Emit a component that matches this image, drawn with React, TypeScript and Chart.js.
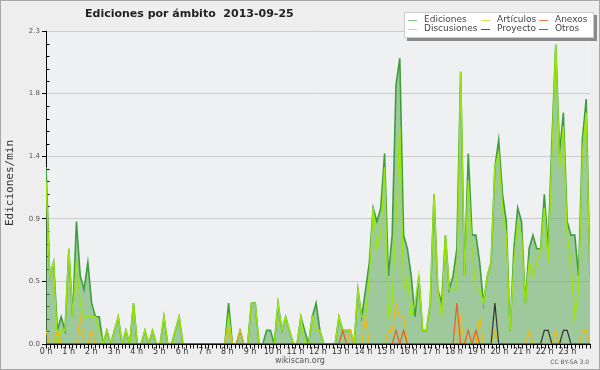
import React, { useEffect, useRef } from 'react';
import { Chart, registerables } from 'chart.js';

Chart.register(...registerables);

const TITLE = 'Ediciones por ámbito  2013-09-25';
const Y_TITLE = 'Ediciones/min';
const FOOTER = 'wikiscan.org';
const LICENSE = 'CC BY-SA 3.0';

const HOUR_LABELS = [
  '0 h', '1 h', '2 h', '3 h', '4 h', '5 h', '6 h', '7 h', '8 h', '9 h', '10 h', '11 h',
  '12 h', '13 h', '14 h', '15 h', '16 h', '17 h', '18 h', '19 h', '20 h', '21 h', '22 h', '23 h',
];
const MINOR_X_PER_HOUR = 6;
const Y_TICKS = [0, 0.46, 0.92, 1.38, 1.84, 2.3];
const Y_MINOR_DIVS = 5;
const Y_MAX = 2.3;

// one value every 10 minutes (144 slots)
const EDICIONES = [
  1.3, 0.5, 0.6, 0.1, 0.2, 0.1, 0.7, 0.2, 0.9, 0.5, 0.4, 0.6,
  0.3, 0.2, 0.2, 0, 0.1, 0, 0.1, 0.2, 0, 0.1, 0, 0.3,
  0, 0, 0.1, 0, 0.1, 0, 0, 0.2, 0, 0, 0.1, 0.2,
  0, 0, 0, 0, 0, 0, 0, 0, 0, 0, 0, 0,
  0.3, 0, 0, 0.1, 0, 0, 0.3, 0.3, 0, 0, 0.1, 0.1,
  0, 0.3, 0.1, 0.2, 0.1, 0, 0, 0.2, 0.1, 0, 0.2, 0.3,
  0.1, 0, 0, 0, 0, 0.2, 0.1, 0.1, 0.1, 0, 0.4, 0.2,
  0.4, 0.6, 1.0, 0.9, 1.0, 1.4, 0.5, 0.8, 1.9, 2.1, 0.8, 0.7,
  0.5, 0.2, 0.5, 0.1, 0.1, 0.3, 1.1, 0.4, 0.3, 0.8, 0.4, 0.5,
  0.7, 2.0, 0.5, 1.4, 0.8, 0.8, 0.6, 0.3, 0.5, 0.6, 1.3, 1.5,
  1.1, 0.9, 0.1, 0.7, 1.0, 0.9, 0.3, 0.7, 0.8, 0.7, 0.7, 1.1,
  0.7, 1.5, 2.2, 1.4, 1.7, 0.9, 0.8, 0.8, 0.5, 1.5, 1.8, 0.5,
];
const ARTICULOS = [
  1.2, 0.5, 0.6, 0, 0.1, 0.1, 0.7, 0.2, 0.6, 0.3, 0.2, 0.2,
  0.2, 0.2, 0.1, 0, 0.1, 0, 0.1, 0.2, 0, 0.1, 0, 0.3,
  0, 0, 0.1, 0, 0.1, 0, 0, 0.2, 0, 0, 0.1, 0.2,
  0, 0, 0, 0, 0, 0, 0, 0, 0, 0, 0, 0,
  0.2, 0, 0, 0, 0, 0, 0.3, 0.3, 0, 0, 0, 0,
  0, 0.3, 0.1, 0.2, 0.1, 0, 0, 0.2, 0, 0, 0.2, 0.1,
  0.1, 0, 0, 0, 0, 0.2, 0.1, 0.1, 0.1, 0, 0.4, 0.2,
  0.2, 0.5, 1.0, 0.7, 0.8, 1.3, 0.2, 0.3, 0.9, 1.6, 0.4, 0.5,
  0.2, 0.3, 0.5, 0.1, 0.1, 0.3, 1.1, 0.4, 0.2, 0.8, 0.4, 0.4,
  0.4, 2.0, 0.5, 1.2, 0.7, 0.4, 0.4, 0.3, 0.5, 0.6, 1.3, 1.4,
  1.0, 0.8, 0.1, 0.6, 0.9, 0.8, 0.3, 0.6, 0.5, 0.6, 0.7, 1.0,
  0.6, 1.4, 2.2, 1.3, 1.6, 0.8, 0.6, 0.2, 0.4, 1.4, 1.7, 0.5,
];
const DISCUSIONES = [
  0.1, 0, 0, 0.1, 0, 0, 0, 0, 0, 0.2, 0, 0,
  0.1, 0, 0, 0, 0, 0, 0, 0, 0, 0, 0, 0,
  0, 0, 0, 0, 0, 0, 0, 0, 0, 0, 0, 0,
  0, 0, 0, 0, 0, 0, 0, 0, 0, 0, 0, 0,
  0.1, 0, 0, 0.1, 0, 0, 0, 0, 0, 0, 0, 0,
  0, 0, 0, 0, 0, 0, 0, 0, 0, 0, 0, 0,
  0, 0, 0, 0, 0, 0, 0, 0, 0.1, 0, 0, 0,
  0.2, 0, 0, 0, 0, 0, 0.1, 0.1, 0.3, 0.2, 0.2, 0,
  0, 0, 0, 0, 0, 0, 0, 0, 0, 0, 0, 0,
  0, 0.2, 0, 0, 0, 0, 0.2, 0, 0, 0, 0.1, 0,
  0, 0, 0, 0, 0, 0, 0, 0.1, 0, 0, 0, 0,
  0, 0, 0.1, 0, 0, 0, 0, 0, 0, 0.1, 0.1, 0,
];
const ANEXOS = [
  0, 0, 0, 0, 0, 0, 0, 0, 0, 0, 0, 0,
  0, 0, 0, 0, 0, 0, 0, 0, 0, 0, 0, 0,
  0, 0, 0, 0, 0, 0, 0, 0, 0, 0, 0, 0,
  0, 0, 0, 0, 0, 0, 0, 0, 0, 0, 0, 0,
  0, 0, 0, 0, 0, 0, 0, 0, 0, 0, 0, 0,
  0, 0, 0, 0, 0, 0, 0, 0, 0, 0, 0, 0,
  0, 0, 0, 0, 0, 0, 0.1, 0, 0, 0, 0, 0,
  0, 0, 0, 0, 0, 0, 0, 0, 0.1, 0, 0.1, 0,
  0, 0, 0, 0, 0, 0, 0, 0, 0, 0, 0, 0,
  0.3, 0, 0, 0.1, 0, 0.1, 0, 0, 0, 0, 0, 0,
  0, 0, 0, 0, 0, 0, 0, 0, 0, 0, 0, 0,
  0, 0, 0, 0, 0, 0, 0, 0, 0, 0, 0, 0,
];
const PROYECTO = [
  0, 0, 0, 0, 0, 0, 0, 0, 0, 0, 0, 0,
  0, 0, 0, 0, 0, 0, 0, 0, 0, 0, 0, 0,
  0, 0, 0, 0, 0, 0, 0, 0, 0, 0, 0, 0,
  0, 0, 0, 0, 0, 0, 0, 0, 0, 0, 0, 0,
  0, 0, 0, 0, 0, 0, 0, 0, 0, 0, 0, 0,
  0, 0, 0, 0, 0, 0, 0, 0, 0, 0, 0, 0,
  0, 0, 0, 0, 0, 0, 0, 0, 0, 0, 0, 0,
  0, 0, 0, 0, 0, 0, 0, 0, 0, 0, 0, 0,
  0, 0, 0, 0, 0, 0, 0, 0, 0, 0, 0, 0,
  0, 0, 0, 0, 0, 0, 0, 0, 0, 0, 0.3, 0,
  0, 0, 0, 0, 0, 0, 0, 0, 0, 0, 0, 0.1,
  0.1, 0, 0, 0, 0.1, 0.1, 0, 0, 0, 0, 0, 0,
];
const OTROS = [
  0, 0, 0, 0, 0, 0, 0, 0, 0, 0, 0, 0,
  0, 0, 0, 0, 0, 0, 0, 0, 0, 0, 0, 0,
  0, 0, 0, 0, 0, 0, 0, 0, 0, 0, 0, 0,
  0, 0, 0, 0, 0, 0, 0, 0, 0, 0, 0, 0,
  0, 0, 0, 0, 0, 0, 0, 0, 0, 0, 0, 0,
  0, 0, 0, 0, 0, 0, 0, 0, 0, 0, 0, 0,
  0, 0, 0, 0, 0, 0, 0, 0, 0, 0, 0, 0,
  0, 0, 0, 0, 0, 0, 0, 0, 0, 0, 0, 0,
  0, 0, 0, 0, 0, 0, 0, 0, 0, 0, 0, 0,
  0, 0, 0, 0, 0, 0, 0, 0, 0, 0, 0, 0,
  0, 0, 0, 0, 0, 0, 0, 0, 0, 0, 0, 0,
  0, 0, 0, 0, 0, 0, 0, 0, 0, 0, 0, 0,
];

// legend layout: row 1 then row 2, three columns
const LEGEND_ITEMS = [
  { name: 'Ediciones', color: '#7fcc7f', col: 0, row: 0 },
  { name: 'Artículos', color: '#c6ec4c', col: 1, row: 0 },
  { name: 'Anexos', color: '#ff8040', col: 2, row: 0 },
  { name: 'Discusiones', color: '#ffcc33', col: 0, row: 1 },
  { name: 'Proyecto', color: '#555555', col: 1, row: 1 },
  { name: 'Otros', color: '#9933ff', col: 2, row: 1 },
];

const LAST = EDICIONES.length - 1;
const toPoints = (arr: number[]) => arr.map((y, x) => ({ x, y }));

const decorPlugin = {
  id: 'decor',
  beforeDraw(chart: any) {
    const { ctx, chartArea: a, width, height } = chart;
    ctx.save();
    ctx.fillStyle = '#eeeeee';
    ctx.fillRect(0, 0, width, height);
    ctx.strokeStyle = '#a8a8a8';
    ctx.lineWidth = 1;
    ctx.strokeRect(0.5, 0.5, width - 1, height - 1);
    ctx.fillStyle = '#eff0f2';
    ctx.fillRect(a.left, a.top, a.right - a.left, a.bottom - a.top);
    ctx.restore();
  },
  beforeDatasetsDraw(chart: any) {
    const { ctx } = chart;
    const y = chart.scales.y;
    const x0 = Math.round(y.right) + 0.5;
    ctx.save();
    ctx.strokeStyle = '#000';
    ctx.lineWidth = 1;
    ctx.beginPath();
    for (let t = 0; t < Y_TICKS.length - 1; t++) {
      const step = (Y_TICKS[t + 1] - Y_TICKS[t]) / Y_MINOR_DIVS;
      for (let k = 1; k < Y_MINOR_DIVS; k++) {
        const py = Math.round(y.getPixelForValue(Y_TICKS[t] + k * step)) + 0.5;
        ctx.moveTo(x0, py);
        ctx.lineTo(x0 + 3, py);
      }
    }
    ctx.stroke();
    ctx.restore();
  },
  afterDatasetsDraw(chart: any) {
    const { ctx, chartArea: a } = chart;
    const xs = chart.scales.x;
    const by = Math.round(a.bottom) + 0.5;
    ctx.save();
    ctx.strokeStyle = '#000';
    ctx.lineWidth = 1;
    ctx.beginPath();
    ctx.moveTo(a.left, by);
    ctx.lineTo(a.right + 1, by);
    const n = HOUR_LABELS.length * MINOR_X_PER_HOUR;
    for (let k = 0; k <= n; k++) {
      const px = Math.round(xs.getPixelForValue((k * LAST) / n)) + 0.5;
      ctx.moveTo(px, by);
      ctx.lineTo(px, by + 4);
    }
    ctx.stroke();
    ctx.restore();
  },
  afterDraw(chart: any) {
    const { ctx } = chart;
    ctx.save();
    // title
    ctx.fillStyle = '#222';
    ctx.font = 'bold 11px "DejaVu Sans"';
    ctx.textAlign = 'left';
    ctx.textBaseline = 'middle';
    ctx.fillText(TITLE, 85, 14);

    // y title
    ctx.save();
    ctx.translate(10, 183);
    ctx.rotate(-Math.PI / 2);
    ctx.font = '11px "DejaVu Sans Mono"';
    ctx.fillStyle = '#333';
    ctx.textAlign = 'center';
    ctx.textBaseline = 'middle';
    ctx.fillText(Y_TITLE, 0, 0);
    ctx.restore();

    // legend
    const lx = 404, ly = 12, lw = 190, lh = 26;
    ctx.fillStyle = '#8a8a8a';
    ctx.fillRect(lx + 3, ly + 3, lw, lh);
    ctx.fillStyle = '#ffffff';
    ctx.fillRect(lx, ly, lw, lh);
    ctx.strokeStyle = '#cccccc';
    ctx.lineWidth = 1;
    ctx.strokeRect(lx + 0.5, ly + 0.5, lw - 1, lh - 1);
    const colX = [408, 481, 539];
    const rowY = [19.5, 29];
    ctx.font = '9px "DejaVu Sans"';
    ctx.textBaseline = 'middle';
    ctx.textAlign = 'left';
    LEGEND_ITEMS.forEach((it) => {
      const x = colX[it.col];
      const y = rowY[it.row];
      ctx.strokeStyle = it.color;
      ctx.lineWidth = 1;
      ctx.beginPath();
      ctx.moveTo(x, Math.round(y) + 0.5);
      ctx.lineTo(x + 9, Math.round(y) + 0.5);
      ctx.stroke();
      ctx.fillStyle = '#444';
      ctx.fillText(it.name, x + 16, y);
    });

    // footer
    ctx.fillStyle = '#555';
    ctx.font = '8px "DejaVu Sans"';
    ctx.textAlign = 'center';
    ctx.fillText(FOOTER, 300, 361);
    ctx.font = '6px "DejaVu Sans"';
    ctx.textAlign = 'right';
    ctx.fillText(LICENSE, 589, 362);
    ctx.restore();
  },
};

export default function App() {
  const ref = useRef<HTMLCanvasElement | null>(null);
  useEffect(() => {
    if (!ref.current) return;
    const chart = new Chart(ref.current, {
      type: 'line',
      data: {
        datasets: [
          {
            label: 'Ediciones',
            data: toPoints(EDICIONES),
            borderColor: '#3d9e3d',
            borderWidth: 1.6,
            backgroundColor: 'rgba(102,175,100,0.6)',
            fill: 'origin',
            order: 6,
          },
          { label: 'Artículos', data: toPoints(ARTICULOS), borderColor: '#9ae60c', borderWidth: 1.4, fill: false, order: 5 },
          { label: 'Discusiones', data: toPoints(DISCUSIONES), borderColor: '#f0b810', borderWidth: 1.2, fill: false, order: 4 },
          { label: 'Anexos', data: toPoints(ANEXOS), borderColor: '#e8601c', borderWidth: 1.2, fill: false, order: 3 },
          { label: 'Proyecto', data: toPoints(PROYECTO), borderColor: '#333333', borderWidth: 1.2, fill: false, order: 2 },
          { label: 'Otros', data: toPoints(OTROS), borderColor: '#9933ff', borderWidth: 1, fill: false, order: 1 },
        ],
      },
      options: {
        responsive: false,
        animation: false,
        events: [],
        layout: { padding: { top: 31, left: 0, right: 10, bottom: 0 } },
        elements: { point: { radius: 0 }, line: { tension: 0 } },
        plugins: { legend: { display: false }, tooltip: { enabled: false }, title: { display: false } },
        scales: {
          x: {
            type: 'linear',
            min: 0,
            max: LAST,
            afterBuildTicks: (s: any) => {
              s.ticks = HOUR_LABELS.map((_, h) => ({ value: (h * LAST) / HOUR_LABELS.length }));
            },
            afterFit: (s: any) => {
              s.height = 26;
            },
            ticks: {
              callback: (_v: any, i: number) => HOUR_LABELS[i],
              font: { family: 'DejaVu Sans', size: 8 },
              color: '#333',
              maxRotation: 0,
              autoSkip: false,
              padding: 0,
            },
            grid: { drawOnChartArea: false, tickLength: 3, tickColor: 'rgba(0,0,0,0)' },
            border: { display: false },
          },
          y: {
            type: 'linear',
            min: 0,
            max: Y_MAX,
            afterBuildTicks: (s: any) => {
              s.ticks = Y_TICKS.map((value) => ({ value }));
            },
            afterFit: (s: any) => {
              s.width = 46;
            },
            ticks: {
              callback: (v: any) => Number(v).toFixed(1),
              font: { family: 'DejaVu Sans', size: 7 },
              color: '#555',
              padding: 2,
            },
            grid: { color: '#cccccc', lineWidth: 1, tickLength: 4, tickColor: '#000' },
            border: { color: '#000', width: 1 },
          },
        },
      },
      plugins: [decorPlugin],
    } as any);
    return () => chart.destroy();
  }, []);
  return (
    <div style={{ position: 'absolute', left: 0, top: 0, width: 600, height: 370 }}>
      <canvas ref={ref} width={600} height={370} style={{ display: 'block' }} />
    </div>
  );
}
